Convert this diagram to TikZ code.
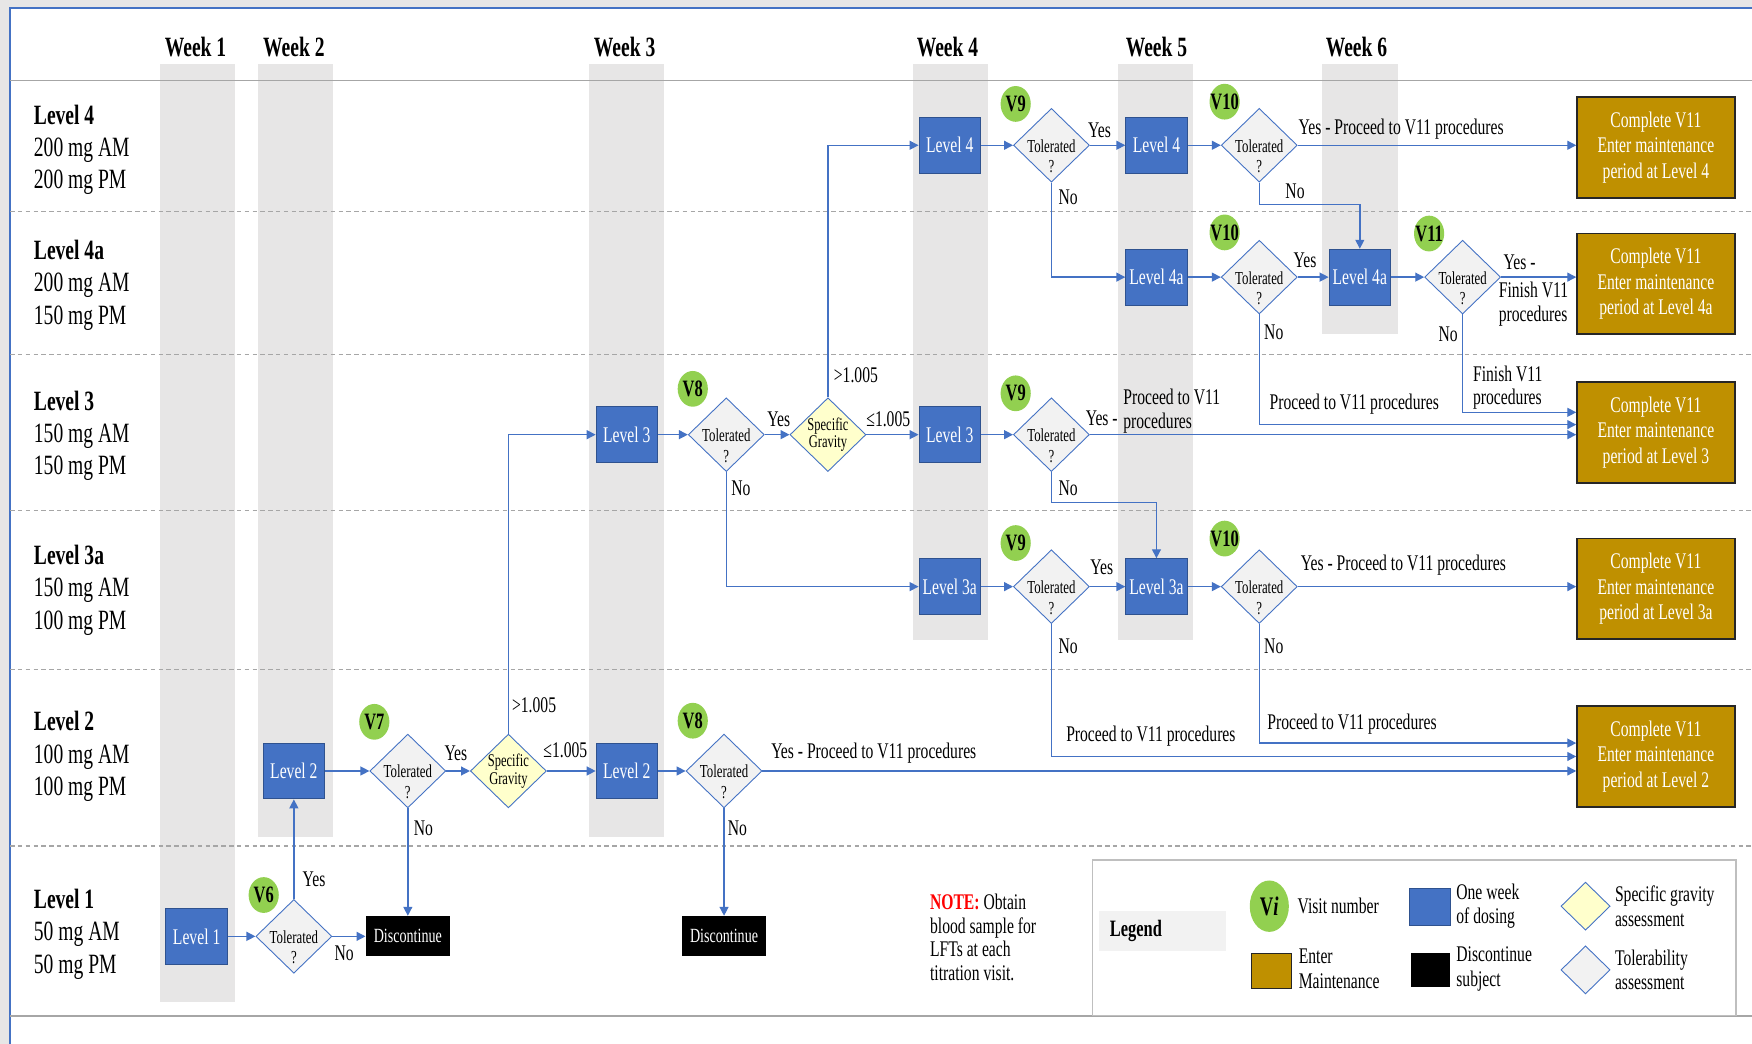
\documentclass[tikz,border=0pt]{standalone}
\usepackage{fontspec}
\setmainfont{Liberation Serif}[FakeStretch=0.7]
\usetikzlibrary{shapes.geometric,arrows.meta}

\definecolor{lvlblue}{HTML}{4472C4}
\definecolor{lvledge}{HTML}{2F528F}
\definecolor{mgold}{HTML}{BF9000}
\definecolor{visitgreen}{HTML}{92D050}
\definecolor{bandgray}{HTML}{E7E6E6}
\definecolor{rulegray}{HTML}{A6A6A6}
\definecolor{sgyellow}{HTML}{FFFFCC}
\definecolor{tolgray}{HTML}{F2F2F2}

\newcommand{\visitno}[1]{\makebox[0pt]{#1}}

\tikzset{
  lvl/.style={draw=lvledge, fill=lvlblue, text=white, minimum width=27.5pt,
    minimum height=25pt, inner sep=0pt, font=\fontsize{10}{11}\selectfont},
  tolshape/.style={diamond, draw=lvlblue, fill=tolgray, inner sep=0pt,
    minimum width=34pt, minimum height=33pt},
  sgshape/.style={diamond, draw=lvlblue, fill=sgyellow, inner sep=0pt,
    minimum width=34pt, minimum height=33pt},
  tol/.style={tolshape,
    label={[font=\fontsize{8.2}{9}\selectfont, anchor=base, inner sep=0pt, yshift=-0.3pt]center:Tolerated},
    label={[font=\fontsize{8.2}{9}\selectfont, anchor=base, inner sep=0pt, yshift=-9.6pt]center:?}},
  sg/.style={sgshape,
    label={[font=\fontsize{8}{8}\selectfont, align=center, inner sep=0pt]center:Specific\\Gravity}},
  visit/.style={ellipse, fill=visitgreen, minimum width=13.5pt, minimum height=16pt,
    inner sep=0pt, font=\bfseries\fontsize{10.5}{11}\selectfont},
  discbox/.style={fill=black, text=white, minimum width=37.5pt, minimum height=18pt,
    inner sep=0pt, font=\fontsize{9}{10}\selectfont},
  endbox/.style={draw=black!85, line width=0.8pt, fill=mgold, text=white, align=center,
    minimum width=70.5pt, minimum height=45pt, inner sep=0pt, font=\fontsize{10}{11.5}\selectfont},
  arr/.style={draw=lvlblue, line width=0.6pt, -{Triangle[width=4pt,length=4pt]}},
  lab/.style={inner sep=0pt, font=\fontsize{10}{10.5}\selectfont},
  week/.style={inner sep=0pt, font=\bfseries\fontsize{12.5}{14}\selectfont},
  rowlab/.style={anchor=west, align=left, inner sep=0pt, font=\fontsize{12.5}{14.5}\selectfont},
  legtx/.style={anchor=west, align=left, inner sep=0pt, font=\fontsize{10}{11}\selectfont}
}

\begin{document}
\begin{tikzpicture}[x=0.5pt,y=-0.5pt]
\useasboundingbox (0,0) rectangle (1568,934);
\fill[bandgray] (0,0) rectangle (1568,934);
\fill[white] (9,7) rectangle (1568,934);

% week columns
\fill[bandgray] (143,57) rectangle (210,897);
\fill[bandgray] (231,57) rectangle (298,749);
\fill[bandgray] (527,57) rectangle (594,749);
\fill[bandgray] (817,57) rectangle (884,573);
\fill[bandgray] (1001,57) rectangle (1068,573);
\fill[bandgray] (1183,57) rectangle (1251,299);

\draw[lvlblue, line width=0.6pt] (9,934) -- (9,7) -- (1568,7);
\draw[rulegray, line width=0.8pt] (9,72) -- (1568,72);
\foreach \y in {189,317,457,599,757}
  \draw[rulegray, line width=0.6pt, dash pattern=on 2pt off 1.5pt] (9,\y) -- (1568,\y);
\draw[rulegray, line width=0.8pt] (9,909) -- (1568,909);

\node[week] (wk1) at (175,42) {Week 1};
\node[week] (wk2) at (263,42) {Week 2};
\node[week] (wk3) at (559,42) {Week 3};
\node[week] (wk4) at (848,42) {Week 4};
\node[week] (wk5) at (1035,42) {Week 5};
\node[week] (wk6) at (1214,42) {Week 6};

\node[rowlab] (row4) at (30,134) {\textbf{Level 4}\\200 mg AM\\200 mg PM};
\node[rowlab] (row4a) at (30,255) {\textbf{Level 4a}\\200 mg AM\\150 mg PM};
\node[rowlab] (row3) at (30,390) {\textbf{Level 3}\\150 mg AM\\150 mg PM};
\node[rowlab] (row3a) at (30,528) {\textbf{Level 3a}\\150 mg AM\\100 mg PM};
\node[rowlab] (row2) at (30,677) {\textbf{Level 2}\\100 mg AM\\100 mg PM};
\node[rowlab] (row1) at (30,836) {\textbf{Level 1}\\50 mg AM\\50 mg PM};

% dosing boxes
\node[lvl] (l1w1) at (176,838) {Level 1};
\node[lvl] (l2w2) at (263,690) {Level 2};
\node[lvl] (l2w3) at (561,690) {Level 2};
\node[lvl] (l3w3) at (561,389) {Level 3};
\node[lvl] (l4w4) at (850,130) {Level 4};
\node[lvl] (l3w4) at (850,389) {Level 3};
\node[lvl] (l3aw4) at (850,525) {Level 3a};
\node[lvl] (l4w5) at (1035,130) {Level 4};
\node[lvl] (l4aw5) at (1035,248) {Level 4a};
\node[lvl] (l3aw5) at (1035,525) {Level 3a};
\node[lvl] (l4aw6) at (1217,248) {Level 4a};

% tolerability checks
\node[tol] (t6) at (263,838) {};
\node[tol] (t7) at (365,690) {};
\node[tol] (t8x) at (650,389) {};
\node[tol] (t8y) at (648,690) {};
\node[tol] (t9a) at (941,130) {};
\node[tol] (t9b) at (941,389) {};
\node[tol] (t9c) at (941,525) {};
\node[tol] (t10a) at (1127,130) {};
\node[tol] (t10b) at (1127,248) {};
\node[tol] (t10c) at (1127,525) {};
\node[tol] (t11) at (1309,248) {};

\node[sg] (sg1) at (455,690) {};
\node[sg] (sg2) at (741,389) {};

\node[discbox] (disc1) at (365,838) {Discontinue};
\node[discbox] (disc2) at (648,838) {Discontinue};

\node[endbox] (end4) at (1482,132) {Complete V11\\Enter maintenance\\period at Level 4};
\node[endbox] (end4a) at (1482,254) {Complete V11\\Enter maintenance\\period at Level 4a};
\node[endbox] (end3) at (1482,387) {Complete V11\\Enter maintenance\\period at Level 3};
\node[endbox] (end3a) at (1482,527) {Complete V11\\Enter maintenance\\period at Level 3a};
\node[endbox] (end2) at (1482,677) {Complete V11\\Enter maintenance\\period at Level 2};

% visit numbers
\node[visit] (v6) at (236,801) {\visitno{V6}};
\node[visit] (v7) at (335,646) {\visitno{V7}};
\node[visit] (v8x) at (620,348) {\visitno{V8}};
\node[visit] (v8y) at (620,645) {\visitno{V8}};
\node[visit] (v9a) at (909,93) {\visitno{V9}};
\node[visit] (v9b) at (909,352) {\visitno{V9}};
\node[visit] (v9c) at (909,486) {\visitno{V9}};
\node[visit] (v10a) at (1096,91) {\visitno{V10}};
\node[visit] (v10b) at (1096,208) {\visitno{V10}};
\node[visit] (v10c) at (1096,482) {\visitno{V10}};
\node[visit] (v11) at (1279,209) {\visitno{V11}};

% connectors
\draw[arr] (l1w1.east) -- (t6.west);
\draw[arr] (t6.east) -- (disc1.west);
\draw[arr] (t6.north) -- (l2w2.south);
\draw[arr] (l2w2.east) -- (t7.west);
\draw[arr] (t7.east) -- (sg1.west);
\draw[arr] (t7.south) -- (disc1.north);
\draw[arr] (sg1.north) |- (l3w3.west);
\draw[arr] (sg1.east) -- (l2w3.west);
\draw[arr] (l2w3.east) -- (t8y.west);
\draw[arr] (t8y.east) -- (t8y.east -| end2.west);
\draw[arr] (t8y.south) -- (disc2.north);
\draw[arr] (l3w3.east) -- (t8x.west);
\draw[arr] (t8x.east) -- (sg2.west);
\draw[arr] (t8x.south) |- (l3aw4.west);
\draw[arr] (sg2.north) |- (l4w4.west);
\draw[arr] (sg2.east) -- (l3w4.west);
\draw[arr] (l4w4.east) -- (t9a.west);
\draw[arr] (t9a.east) -- (l4w5.west);
\draw[arr] (t9a.south) |- (l4aw5.west);
\draw[arr] (l4w5.east) -- (t10a.west);
\draw[arr] (t10a.east) -- (t10a.east -| end4.west);
\coordinate (bend10a) at (1127,183);
\draw[arr] (t10a.south) -- (bend10a) -| (l4aw6.north);
\draw[arr] (l4aw5.east) -- (t10b.west);
\draw[arr] (t10b.east) -- (l4aw6.west);
\draw[arr] (t10b.south) |- ([yshift=3.5pt]end3.west);
\draw[arr] (l4aw6.east) -- (t11.west);
\draw[arr] (t11.east) -- (t11.east -| end4a.west);
\draw[arr] (t11.south) |- ([yshift=9pt]end3.west);
\draw[arr] (l3w4.east) -- (t9b.west);
\draw[arr] (t9b.east) -- (t9b.east -| end3.west);
\coordinate (bend9b) at (941,450);
\draw[arr] (t9b.south) -- (bend9b) -| (l3aw5.north);
\draw[arr] (l3aw4.east) -- (t9c.west);
\draw[arr] (t9c.east) -- (l3aw5.west);
\draw[arr] (t9c.south) |- (end2.west);
\draw[arr] (l3aw5.east) -- (t10c.west);
\draw[arr] (t10c.east) -- (t10c.east -| end3a.west);
\draw[arr] (t10c.south) |- ([yshift=6pt]end2.west);

% connector labels
\node[lab] (yes6) at (281,787) {Yes};
\node[lab] (no6) at (308,853) {No};
\node[lab] (yes7) at (408,674) {Yes};
\node[lab] (no7) at (379,741) {No};
\node[lab] (gt1) at (478,631) {>1.005};
\node[lab] (le1) at (506,671) {≤1.005};
\node[lab] (yes8y) at (782,674) {Yes - Proceed to V11 procedures};
\node[lab] (no8y) at (660,741) {No};
\node[lab] (yes8x) at (697,375) {Yes};
\node[lab] (no8x) at (663,437) {No};
\node[lab] (gt2) at (766,336) {>1.005};
\node[lab] (le2) at (795,375) {≤1.005};
\node[lab] (yes9a) at (984,117) {Yes};
\node[lab] (no9a) at (956,177) {No};
\node[lab] (yes10a) at (1254,116) {Yes - Proceed to V11 procedures};
\node[lab] (no10a) at (1159,171) {No};
\node[lab] (yes10b) at (1168,233) {Yes};
\node[lab] (no10b) at (1140,297) {No};
\node[lab] (go10b) at (1212,362) {Proceed to V11 procedures};
\node[lab] (yes11) at (1360,235) {Yes -};
\node[lab, anchor=west, align=left] (fin11y) at (1341,272) {Finish V11\\procedures};
\node[lab] (no11) at (1296,299) {No};
\node[lab, anchor=west, align=left] (fin11n) at (1318,347) {Finish V11\\procedures};
\node[lab] (yes9b) at (986,374) {Yes -};
\node[lab, anchor=west, align=left] (go9b) at (1005,368) {Proceed to V11\\procedures};
\node[lab] (no9b) at (956,437) {No};
\node[lab] (yes9c) at (986,508) {Yes};
\node[lab] (no9c) at (956,578) {No};
\node[lab] (go9c) at (1030,659) {Proceed to V11 procedures};
\node[lab] (yes10c) at (1256,506) {Yes - Proceed to V11 procedures};
\node[lab] (no10c) at (1140,578) {No};
\node[lab] (go10c) at (1210,648) {Proceed to V11 procedures};

\node[anchor=west, align=left, inner sep=0pt, font=\fontsize{10}{10.5}\selectfont] (note) at (832,839)
  {\textcolor{red}{\textbf{NOTE:}} Obtain\\blood sample for\\LFTs at each\\titration visit.};

% legend
\node[draw=black!25, line width=0.8pt, anchor=north west, inner sep=0pt,
  minimum width=288pt, minimum height=69.5pt] (legendframe) at (977,769) {};
\node[fill=tolgray, anchor=west, inner xsep=5pt, inner ysep=0pt, text width=47pt,
  minimum height=18pt, font=\bfseries\fontsize{10.5}{12}\selectfont] (legendtitle) at (983,833) {Legend};
\node[visit, minimum width=17.5pt, minimum height=23pt, font=\fontsize{12}{13}\selectfont] (keyvisit) at (1136,811) {\textbf{V\textit{i}}};
\node[legtx] (keyvisittx) at (1161,811) {Visit number};
\node[lvl, minimum width=18.5pt, minimum height=16.5pt] (keydose) at (1280,812) {};
\node[legtx] (keydosetx) at (1303,811) {One week\\of dosing};
\node[sgshape, minimum width=22pt, minimum height=21.5pt] (keysg) at (1419,811) {};
\node[legtx] (keysgtx) at (1445,811) {Specific gravity\\assessment};
\node[draw=black!85, fill=mgold, minimum width=18pt, minimum height=16pt, inner sep=0pt] (keyend) at (1138,869) {};
\node[legtx] (keyendtx) at (1162,867) {Enter\\Maintenance};
\node[fill=black, minimum width=17.5pt, minimum height=15.5pt, inner sep=0pt] (keydisc) at (1280,868) {};
\node[legtx] (keydisctx) at (1303,867) {Discontinue\\subject};
\node[tolshape, minimum width=22pt, minimum height=21.5pt] (keytol) at (1419,868) {};
\node[legtx] (keytoltx) at (1445,868) {Tolerability\\assessment};
\end{tikzpicture}
\end{document}
